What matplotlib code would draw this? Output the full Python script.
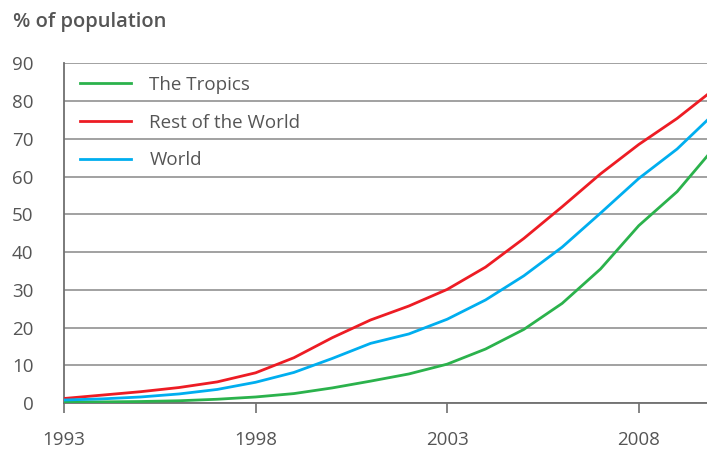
import matplotlib
matplotlib.use("Agg")
import matplotlib.pyplot as plt

plt.rcParams['font.family'] = ['Open Sans', 'DejaVu Sans']

years = list(range(1993, 2011))
tropics = [0.3, 0.3, 0.4, 0.6, 1.0, 1.6, 2.5, 4.0, 5.8, 7.7, 10.3, 14.3, 19.5, 26.4, 35.5, 47.0, 56.0, 68.0]
rest_of_world = [1.2, 2.1, 3.0, 4.1, 5.6, 8.0, 12.0, 17.3, 22.0, 25.7, 30.1, 36.0, 43.6, 52.0, 60.7, 68.5, 75.4, 83.4]
world = [0.8, 1.1, 1.6, 2.4, 3.6, 5.5, 8.1, 11.8, 15.8, 18.3, 22.2, 27.3, 33.7, 41.3, 50.3, 59.5, 67.3, 77.0]

series_names = ["The Tropics", "Rest of the World", "World"]
series_colors = ["#2bb24c", "#ed1c24", "#00aeef"]
y_ticks = list(range(0, 100, 10))
x_ticks = [1993, 1998, 2003, 2008]

text_color = "#555555"
grid_color = "#9a9a9a"

fig = plt.figure(figsize=(7.07, 4.5), dpi=100)
ax = fig.add_axes([0.0905, 0.1044, 0.9095, 0.7549])

for vals, name, col in zip([tropics, rest_of_world, world], series_names, series_colors):
    ax.plot(years, vals, color=col, lw=2.0, label=name, solid_joinstyle='miter', zorder=3)

ax.set_xlim(1993, 2009.78)
ax.set_ylim(0, 90)
ax.set_yticks(y_ticks)
ax.set_xticks(x_ticks)
ax.set_xticklabels([str(x) for x in x_ticks])

ax.yaxis.grid(True, color=grid_color, lw=1.3)
ax.set_axisbelow(True)
for s in ["top", "right"]:
    ax.spines[s].set_visible(False)
ax.spines["left"].set_color("#707070")
ax.spines["left"].set_linewidth(1.3)
ax.spines["bottom"].set_color("#707070")
ax.spines["bottom"].set_linewidth(1.3)

ax.tick_params(axis="y", length=0, pad=22, labelsize=13.5, labelcolor=text_color)
for lbl in ax.get_yticklabels():
    lbl.set_horizontalalignment("right")
ax.tick_params(axis="x", length=7, width=1.2, color="#707070", pad=13,
               labelsize=13.5, labelcolor=text_color, direction="out")

leg = ax.legend(loc="upper left", bbox_to_anchor=(0.0, 1.01), frameon=False,
                fontsize=13.5, handlelength=2.75, handletextpad=0.95,
                labelspacing=1.05, borderaxespad=0.45)
for t in leg.get_texts():
    t.set_color(text_color)

fig.text(0.018, 0.952, "% of population", fontsize=14.5, fontweight="semibold",
         color=text_color, ha="left", va="center")

fig.savefig("out.png", dpi=100)
